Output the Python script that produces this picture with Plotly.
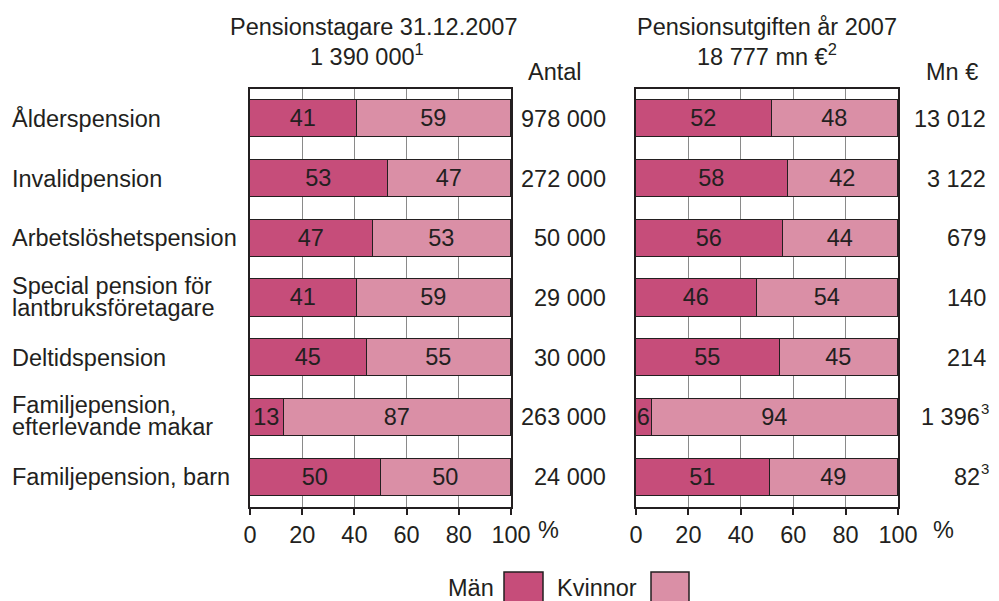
import plotly.graph_objects as go

# categories (top to bottom)
categories = [
    "Ålderspension",
    "Invalidpension",
    "Arbetslöshetspension",
    "Special pension för\nlantbruksföretagare",
    "Deltidspension",
    "Familjepension,\nefterlevande makar",
    "Familjepension, barn",
]

# share of recipients, %
men_recipients = [41, 53, 47, 41, 45, 13, 50]
women_recipients = [59, 47, 53, 59, 55, 87, 50]
recipients = ["978 000", "272 000", "50 000", "29 000", "30 000", "263 000", "24 000"]

# share of expenditure, %
men_expenditure = [52, 58, 56, 46, 55, 6, 51]
women_expenditure = [48, 42, 44, 54, 45, 94, 49]
expenditure = ["13 012", "3 122", "679", "140", "214", "1 396", "82"]
expenditure_notes = ["", "", "", "", "", "3", "3"]

ticks = [0, 20, 40, 60, 80, 100]

MEN = "#C64D7A"
WOMEN = "#DA8FA6"
INK = "#231F20"
FONT = "Arial, Liberation Sans, Helvetica, sans-serif"
FS = 23.5
W, H = 999, 601
OFF = 8  # the page body adds an 8px margin, so place things 8px up/left


def px(x):
    return (x - OFF) / W


def py(y):
    return 1 - (y - OFF) / H


fig = go.Figure()

ypos = list(range(len(categories)))

for xa, ya, men, women in [("x", "y", men_recipients, women_recipients),
                           ("x2", "y2", men_expenditure, women_expenditure)]:
    for vals, col, name in [(men, MEN, "Män"), (women, WOMEN, "Kvinnor")]:
        fig.add_trace(go.Bar(
            x=vals, y=ypos, orientation="h", name=name, xaxis=xa, yaxis=ya,
            marker=dict(color=col, line=dict(color=INK, width=1.5)),
            width=0.62, text=[str(v) for v in vals], textposition="inside",
            insidetextanchor="middle", textangle=0, constraintext="none",
            textfont=dict(size=FS, color=INK, family=FONT),
            showlegend=False, cliponaxis=False,
        ))

axis_x = dict(
    range=[0, 100], tickvals=ticks, ticks="outside", ticklen=6, tickwidth=1.5,
    tickcolor=INK, showline=True, linecolor=INK, linewidth=1.5, mirror=True,
    showgrid=True, gridcolor="#8a8a8a", gridwidth=1, zeroline=False,
    tickfont=dict(size=FS, color=INK, family=FONT), fixedrange=True,
    automargin=False,
)
axis_y = dict(
    domain=[py(507), py(89)], range=[6.5, -0.5], showticklabels=False,
    showline=True, linecolor=INK, linewidth=1.5, mirror=True,
    showgrid=False, zeroline=False, ticks="", fixedrange=True, automargin=False,
)

fig.update_layout(
    width=W, height=H, margin=dict(l=0, r=0, t=0, b=0, autoexpand=False),
    paper_bgcolor="white", plot_bgcolor="white",
    barmode="stack", bargap=0,
    font=dict(family=FONT, color=INK, size=FS),
    xaxis=dict(domain=[px(250), px(511)], anchor="y", **axis_x),
    xaxis2=dict(domain=[px(636), px(898)], anchor="y2", **axis_x),
    yaxis=dict(anchor="x", **axis_y),
    yaxis2=dict(anchor="x2", **axis_y),
)

ann = []


def text(x, y, s, xanchor="center", size=FS, yref="paper", yshift=0):
    ann.append(dict(x=x, y=y, xref="paper", yref=yref, text=s, showarrow=False,
                    xanchor=xanchor, yanchor="middle", yshift=yshift,
                    font=dict(size=size, color=INK, family=FONT)))


# category labels
for i, cat in enumerate(categories):
    lines = cat.split("\n")
    if len(lines) == 1:
        text(px(10), i, lines[0], xanchor="left", yref="y")
    else:
        text(px(10), i, lines[0], xanchor="left", yref="y", yshift=12)
        text(px(10), i, lines[1], xanchor="left", yref="y", yshift=-10)

# totals beside the bars
for i, v in enumerate(recipients):
    text(px(608), i, v, xanchor="right", yref="y")
for i, (v, n) in enumerate(zip(expenditure, expenditure_notes)):
    if n:
        text(px(982), i, v, xanchor="right", yref="y")
        text(px(979), i, n, xanchor="left", size=15, yref="y", yshift=9)
    else:
        text(px(988), i, v, xanchor="right", yref="y")

# headers
text(px(373), py(27), "Pensionstagare 31.12.2007")
text(px(367), py(55), "1 390 000<sup>1</sup>")
text(px(555), py(72), "Antal")
text(px(767), py(27), "Pensionsutgiften år 2007")
text(px(767), py(55), "18 777 mn €<sup>2</sup>")
text(px(952), py(72), "Mn €")

# percent signs after the axes
text(px(548), py(530), "%")
text(px(943), py(530), "%")

# legend
text(px(496), py(588), "Män", xanchor="right")
text(px(639), py(588), "Kvinnor", xanchor="right")

fig.update_layout(annotations=ann, shapes=[
    dict(type="rect", xref="paper", yref="paper", x0=px(504), x1=px(543),
         y0=py(612), y1=py(572), fillcolor=MEN, line=dict(color=INK, width=1.5)),
    dict(type="rect", xref="paper", yref="paper", x0=px(651), x1=px(689),
         y0=py(612), y1=py(572), fillcolor=WOMEN, line=dict(color=INK, width=1.5)),
])

fig.write_html("out.html")
